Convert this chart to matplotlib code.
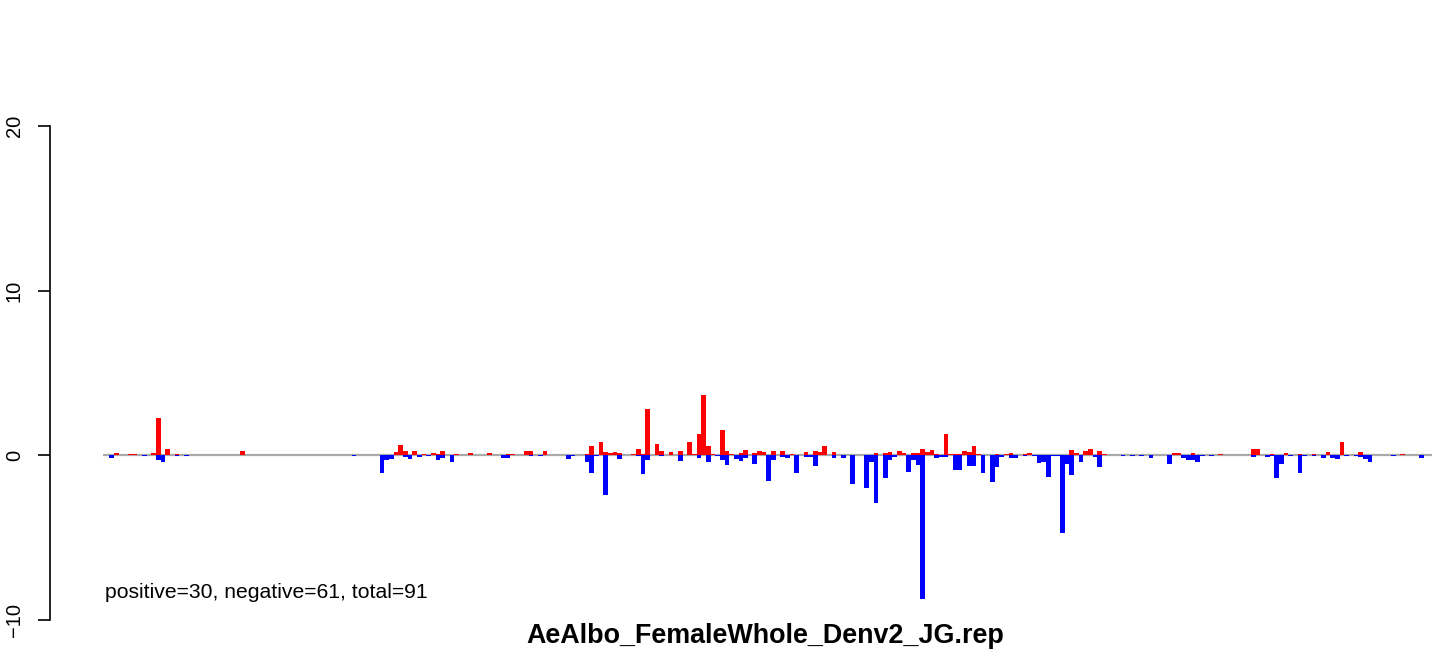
import numpy as np
import matplotlib
matplotlib.use('Agg')
import matplotlib.pyplot as plt

plt.rcParams['font.family'] = ['Liberation Sans', 'DejaVu Sans']

# bin index -> value
pos_bins = [1, 4, 5, 9, 10, 12, 14, 28, 30, 61, 62, 63, 65, 67, 69, 70, 71, 74, 77, 81,
            85, 86, 89, 90, 93, 102, 103, 105, 106, 107, 108, 109, 112, 113, 114, 115,
            117, 118, 120, 122, 124, 125, 126, 127, 128, 129, 131, 132, 133, 135, 136,
            138, 139, 140, 142, 144, 146, 149, 151, 152, 153, 155, 164, 166, 167, 169,
            170, 172, 173, 174, 175, 176, 177, 179, 180, 181, 182, 183, 184, 185, 186,
            190, 192, 193, 196, 197, 206, 207, 209, 210, 212, 213, 228, 229, 232, 238,
            245, 246, 249, 252, 255, 258, 261, 264, 268, 277]
pos_vals = [0.12, 0.06, 0.06, 0.12, 2.25, 0.36, 0.06, 0.24, 0.05, 0.18, 0.61, 0.24, 0.24,
            0.06, 0.12, 0.06, 0.24, 0.06, 0.12, 0.12, 0.06, 0.06, 0.24, 0.24, 0.24, 0.06,
            0.55, 0.79, 0.18, 0.12, 0.18, 0.12, 0.06, 0.36, 0.06, 2.8, 0.67, 0.24, 0.18,
            0.24, 0.79, 0.06, 1.28, 3.65, 0.55, 0.06, 1.52, 0.24, 0.06, 0.12, 0.3, 0.12,
            0.24, 0.18, 0.24, 0.24, 0.06, 0.18, 0.24, 0.18, 0.55, 0.18, 0.12, 0.12, 0.18,
            0.24, 0.12, 0.12, 0.12, 0.36, 0.18, 0.3, 0.06, 1.28, 0.06, 0.06, 0.06, 0.24,
            0.18, 0.55, 0.06, 0.06, 0.06, 0.12, 0.06, 0.12, 0.3, 0.12, 0.24, 0.36, 0.24,
            0.06, 0.12, 0.12, 0.12, 0.06, 0.36, 0.36, 0.06, 0.12, 0.06, 0.06, 0.18, 0.79,
            0.18, 0.06]

neg_bins = [0, 7, 10, 11, 14, 16, 52, 58, 59, 60, 63, 64, 66, 68, 70, 71, 73, 84, 85, 90,
            92, 98, 99, 102, 103, 104, 106, 109, 113, 114, 115, 118, 122, 126, 128, 130,
            131, 132, 134, 135, 136, 138, 141, 142, 144, 145, 147, 149, 150, 151, 155,
            157, 159, 162, 163, 164, 166, 167, 168, 171, 172, 173, 174, 177, 178, 179,
            181, 182, 184, 185, 187, 189, 190, 191, 193, 194, 196, 198, 199, 200, 201,
            202, 203, 204, 205, 206, 208, 211, 212, 217, 219, 221, 223, 227, 230, 231,
            232, 233, 234, 236, 245, 248, 249, 250, 251, 253, 255, 256, 258, 260, 262,
            263, 265, 267, 268, 269, 270, 275, 281]
neg_vals = [-0.16, -0.06, -0.3, -0.4, -0.06, -0.05, -0.05, -1.07, -0.3, -0.24, -0.12, -0.24,
            -0.12, -0.05, -0.3, -0.16, -0.4, -0.16, -0.16, -0.06, -0.05, -0.24, -0.05, -0.4,
            -1.07, -0.05, -2.43, -0.24, -0.05, -1.15, -0.3, -0.06, -0.36, -0.18, -0.43,
            -0.05, -0.3, -0.61, -0.24, -0.36, -0.18, -0.55, -1.58, -0.3, -0.12, -0.18, -1.1,
            -0.12, -0.12, -0.67, -0.18, -0.18, -1.76, -2.0, -0.43, -2.92, -1.4, -0.3, -0.12,
            -1.03, -0.3, -0.6, -8.7, -0.18, -0.12, -0.12, -0.91, -0.91, -0.67, -0.67, -1.1,
            -1.64, -0.73, -0.12, -0.18, -0.18, -0.05, -0.06, -0.49, -0.43, -1.34, -0.06,
            -0.06, -4.74, -0.55, -1.22, -0.43, -0.12, -0.73, -0.05, -0.05, -0.05, -0.18,
            -0.55, -0.18, -0.3, -0.3, -0.43, -0.05, -0.05, -0.12, -0.12, -0.05, -1.4, -0.55,
            -0.05, -1.1, -0.05, -0.05, -0.18, -0.18, -0.24, -0.05, -0.05, -0.12, -0.24,
            -0.43, -0.05, -0.18]

yticks = [-10, 0, 10, 20]
title = 'AeAlbo_FemaleWhole_Denv2_JG.rep'
n_pos, n_neg = 30, 61

W, H = 1444, 656
fig = plt.figure(figsize=(W / 100, H / 100), dpi=100)
# axes placed in pixels: x 50..1432, y 126..620
ax = fig.add_axes([50 / W, (H - 620) / H, (1432 - 50) / W, (620 - 126) / H])

bw = 4.66
x_first = 109.4
ax.set_xlim((50 - x_first) / bw, (1432 - x_first) / bw)
ax.set_ylim(-10, 20)

ax.hlines(0, (103 - x_first) / bw, (1432 - x_first) / bw, color='#aaaaaa', lw=1.6, zorder=1)
ax.bar(pos_bins, pos_vals, width=1, align='edge', color='#ff0000', lw=0, zorder=2)
ax.bar(neg_bins, neg_vals, width=1, align='edge', color='#0000ff', lw=0, zorder=2)

for s in ['top', 'right', 'bottom']:
    ax.spines[s].set_visible(False)
ax.spines['left'].set_bounds(-10, 20)
ax.spines['left'].set_linewidth(1.2)
ax.set_xticks([])
ax.set_yticks(yticks)
ax.set_yticklabels([str(t).replace('-', '\u2212') for t in yticks], rotation=90,
                   va='center', fontsize=14.5)
ax.tick_params(axis='y', length=8.8, width=1.2, pad=10)

fig.text(105 / W, (H - 598) / H, f'positive={n_pos}, negative={n_neg}, total={n_pos + n_neg}',
         fontsize=15.2, va='baseline', ha='left')
fig.text(765 / W, (H - 643) / H, title, fontsize=19.4, fontweight='bold',
         va='baseline', ha='center')

fig.savefig('out.png', dpi=100)
